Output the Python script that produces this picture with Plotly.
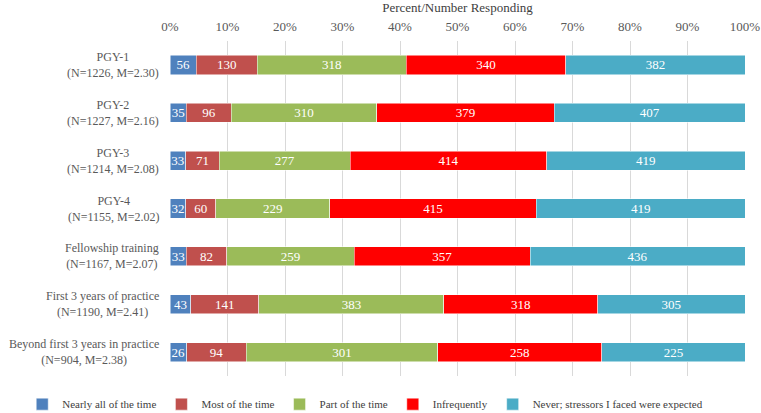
import plotly.graph_objects as go

groups = ["PGY-1", "PGY-2", "PGY-3", "PGY-4", "Fellowship training",
          "First 3 years of practice", "Beyond first 3 years in practice"]
group_stats = ["(N=1226, M=2.30)", "(N=1227, M=2.16)", "(N=1214, M=2.08)",
               "(N=1155, M=2.02)", "(N=1167, M=2.07)", "(N=1190, M=2.41)",
               "(N=904, M=2.38)"]

responses = ["Nearly all of the time", "Most of the time", "Part of the time",
             "Infrequently", "Never; stressors I faced were expected"]

nearly_all = [56, 35, 33, 32, 33, 43, 26]
most = [130, 96, 71, 60, 82, 141, 94]
part = [318, 310, 277, 229, 259, 383, 301]
infrequently = [340, 379, 414, 415, 357, 318, 258]
never = [382, 407, 419, 419, 436, 305, 225]

colors = ["#4F81BD", "#C0504D", "#9BBB59", "#FF0000", "#4BACC6"]

font = "Liberation Serif"

fig = go.Figure()
for name, vals, col in zip(responses, [nearly_all, most, part, infrequently, never], colors):
    fig.add_trace(go.Bar(
        y=groups, x=vals, name=name, orientation="h",
        marker=dict(color=col, line=dict(color="white", width=0.5)),
        text=vals, textposition="inside", insidetextanchor="middle",
        textangle=0, textfont=dict(color="white", size=13, family=font),
        hoverinfo="name+x",
    ))

# category labels: two centered lines to the left of the plot
for g, s in zip(groups, group_stats):
    fig.add_annotation(
        x=0, xref="paper", y=g, yref="y", xanchor="right", xshift=-9,
        text=g + "<br>" + s, showarrow=False, align="center",
        font=dict(size=12, color="#595959", family=font),
    )

fig.update_layout(
    barmode="stack", barnorm="percent", bargap=0.6,
    width=761, height=413,
    margin=dict(l=170, r=16, t=41, b=37, autoexpand=False),
    paper_bgcolor="white", plot_bgcolor="white",
    font=dict(family=font, color="#595959", size=13),
    uniformtext=dict(minsize=12, mode="show"),
    legend=dict(orientation="h", x=-0.257, xanchor="left",
                y=-0.084, yanchor="middle",
                font=dict(size=11, color="#404040", family=font),
                itemwidth=30, traceorder="normal", tracegroupgap=0),
    showlegend=True,
)
fig.update_xaxes(
    side="top", range=[0, 100], dtick=10, ticksuffix="%",
    showgrid=True, gridcolor="#D9D9D9", zeroline=False, automargin=False,
    ticklabelstandoff=6,
    title=dict(text="Percent/Number Responding", standoff=10,
               font=dict(size=13, color="#404040", family=font)),
    tickfont=dict(size=13, color="#595959", family=font),
)
fig.update_yaxes(autorange="reversed", showticklabels=False, showgrid=False,
                 automargin=False)

# drop the page's default 8px body margin so the chart fills the window
fig.write_html("out.html", config={"displayModeBar": False},
               post_script="document.body.style.margin='0';")
